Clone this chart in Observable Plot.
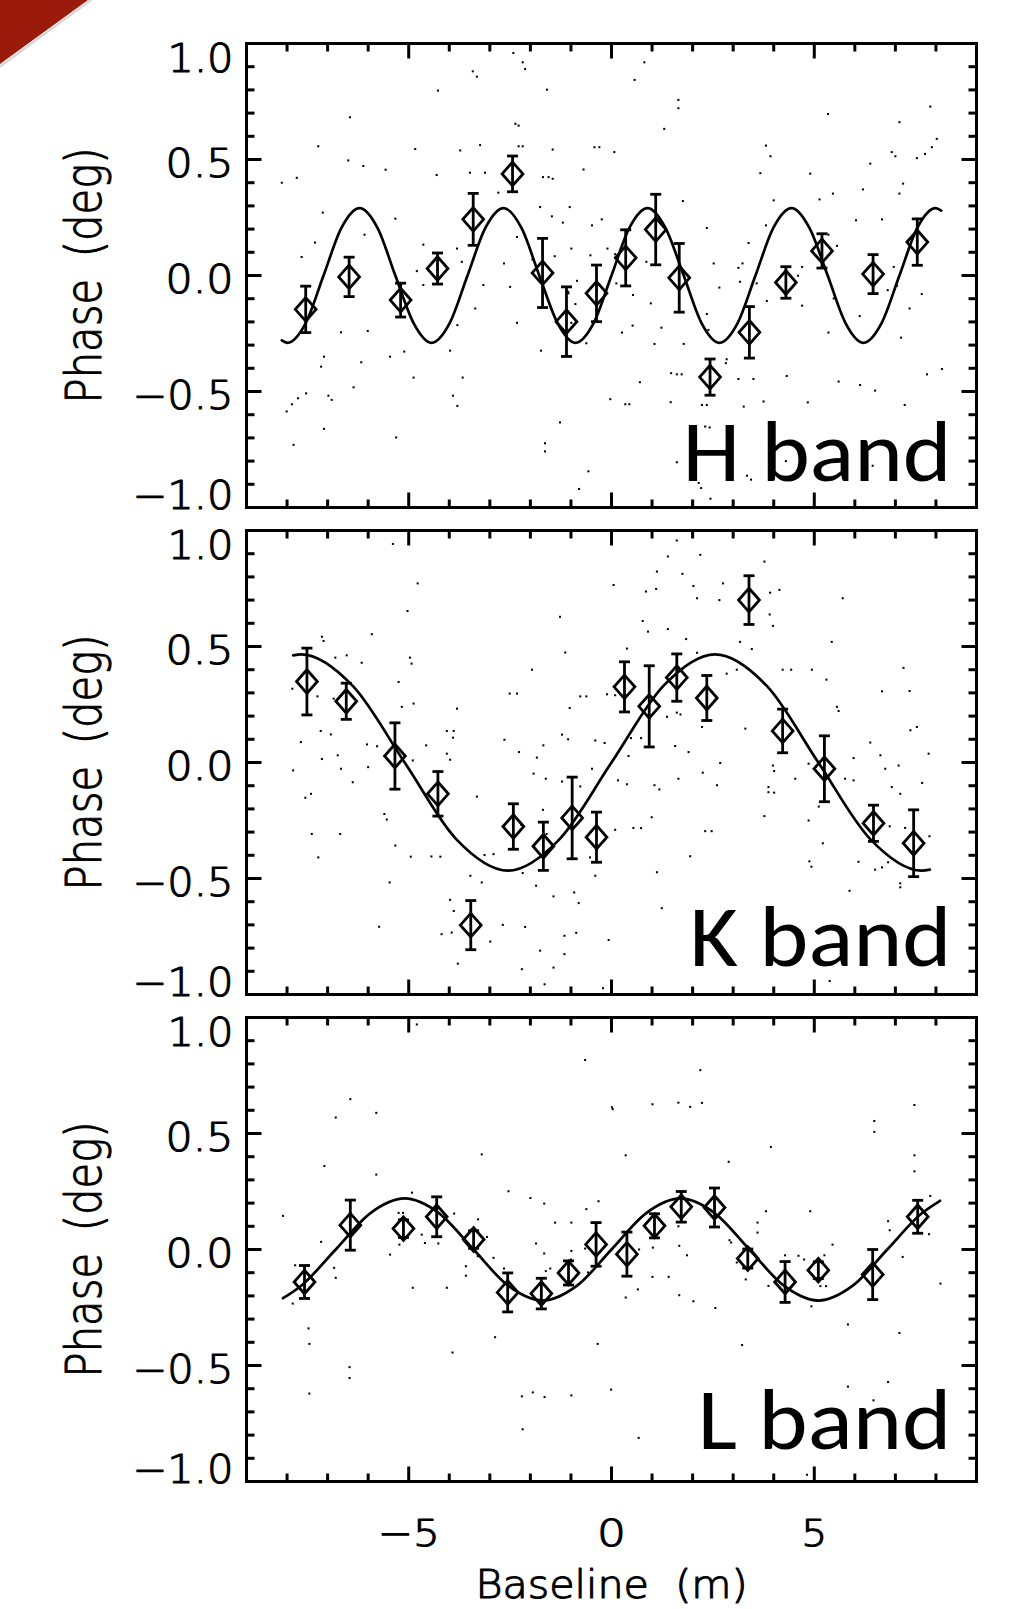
<!DOCTYPE html>
<html><head><meta charset="utf-8">
<script src="https://cdn.jsdelivr.net/npm/d3@7"></script>
<script src="https://cdn.jsdelivr.net/npm/@observablehq/plot@0.6"></script>
<style>
html,body{margin:0;padding:0;background:#fff;}
#wrap{position:relative;width:1018px;height:1609px;overflow:hidden;background:#fff;}
#wrap > svg{display:block;}
#corner{position:absolute;left:0;top:0;}
</style></head><body><div id="wrap"></div>
<script>
// ---------- data ----------
const bandNames = ["H band", "K band", "L band"];

const hBase  = [-7.54,-6.47,-5.20,-4.29,-3.41,-2.44,-1.70,-1.11,-0.37,0.35,1.09,1.67,2.43,3.40,4.30,5.19,6.45,7.54];
const hPhase = [-0.146,-0.006,-0.106,0.030,0.242,0.438,0.011,-0.199,-0.077,0.076,0.198,-0.010,-0.438,-0.245,-0.030,0.106,0.006,0.144];
const hErr   = [0.100,0.085,0.073,0.067,0.112,0.077,0.149,0.150,0.122,0.121,0.152,0.148,0.078,0.111,0.068,0.074,0.084,0.100];

const kBase  = [-7.51,-6.54,-5.34,-4.28,-3.47,-2.42,-1.68,-0.97,-0.37,0.32,0.93,1.61,2.35,3.39,4.22,5.25,6.46,7.45];
const kPhase = [0.349,0.264,0.028,-0.135,-0.701,-0.276,-0.361,-0.239,-0.322,0.326,0.242,0.366,0.278,0.700,0.136,-0.027,-0.262,-0.348];
const kErr   = [0.144,0.078,0.143,0.096,0.106,0.098,0.104,0.176,0.108,0.108,0.175,0.102,0.097,0.105,0.094,0.142,0.078,0.144];

const lBase  = [-7.57,-6.44,-5.13,-4.31,-3.40,-2.56,-1.73,-1.06,-0.38,0.38,1.06,1.72,2.54,3.36,4.28,5.10,6.44,7.55];
const lPhase = [-0.140,0.105,0.090,0.141,0.043,-0.185,-0.190,-0.101,0.022,-0.020,0.102,0.184,0.181,-0.039,-0.140,-0.089,-0.108,0.141];
const lErr   = [0.071,0.108,0.038,0.086,0.038,0.084,0.066,0.052,0.094,0.095,0.052,0.066,0.084,0.041,0.088,0.036,0.108,0.071];

// model curves (extrema, half-heights, zero crossings)
const hModel = [[-8.13,-0.28],[-7.99,-0.29],[-7.54,-0.205],[-7.10,0],[-6.66,0.205],[-6.21,0.29],[-5.77,0.205],[-5.33,0],[-4.88,-0.205],[-4.44,-0.29],[-3.99,-0.205],[-3.55,0],[-3.11,0.205],[-2.66,0.29],[-2.22,0.205],[-1.78,0],[-1.33,-0.205],[-0.89,-0.29],[-0.44,-0.205],[0,0],[0.44,0.205],[0.89,0.29],[1.33,0.205],[1.78,0],[2.22,-0.205],[2.66,-0.29],[3.11,-0.205],[3.55,0],[3.99,0.205],[4.44,0.29],[4.88,0.205],[5.33,0],[5.77,-0.205],[6.21,-0.29],[6.66,-0.205],[7.10,0],[7.54,0.205],[7.99,0.29],[8.13,0.28]];
const kModel = [[-7.85,0.462],[-7.65,0.466],[-6.38,0.33],[-5.10,0],[-3.83,-0.33],[-2.55,-0.466],[-1.28,-0.33],[0,0],[1.28,0.33],[2.55,0.466],[3.83,0.33],[5.10,0],[6.38,-0.33],[7.65,-0.466],[7.85,-0.462]];
const lModel = [[-8.10,-0.21],[-7.65,-0.156],[-6.80,0],[-5.95,0.156],[-5.10,0.22],[-4.25,0.156],[-3.40,0],[-2.55,-0.156],[-1.70,-0.22],[-0.85,-0.156],[0,0],[0.85,0.156],[1.70,0.22],[2.55,0.156],[3.40,0],[4.25,-0.156],[5.10,-0.22],[5.95,-0.156],[6.80,0],[7.65,0.156],[8.10,0.21]];

// faint raw samples (small dots)
const hScatter = [[-3.42,0.88],[-3.32,0.857],[-4.28,0.797],[-6.45,0.682],[-7.23,0.557],[-4.84,0.545],[-3.73,0.539],[-3.24,0.562],[-8.13,0.40],[-7.76,0.421],[-6.49,0.496],[-6.12,0.472],[-5.57,0.456],[-4.31,0.433],[-3.49,0.443],[-3.12,0.443],[-2.79,0.357],[-7.12,0.271],[-5.33,0.245],[-6.09,0.176],[-7.31,0.142],[-4.64,0.133],[-3.81,0.116],[-3.69,0.059],[-7.64,0.08],[-4.80,0.019],[-4.64,-0.041],[-3.16,-0.041],[-3.36,-0.142],[-3.80,-0.214],[-6.67,-0.245],[-6.01,-0.239],[-3.98,-0.324],[-5.11,-0.328],[-5.46,-0.350],[-7.09,-0.350],[-7.16,-0.393],[-6.17,-0.374],[-4.88,-0.44],[-3.67,-0.44],[-8.01,-0.586],[-7.88,-0.555],[-7.73,-0.529],[-7.53,-0.508],[-6.98,-0.518],[-6.90,-0.536],[-6.36,-0.482],[-3.91,-0.518],[-3.80,-0.562],[-7.09,-0.661],[-5.31,-0.698],[-7.84,-0.730],
[-2.42,0.959],[-2.19,0.919],[-2.13,0.89],[0.81,0.919],[0.57,0.843],[-1.59,0.801],[1.65,0.757],[1.65,0.721],[5.34,0.696],[7.86,0.728],[7.10,0.661],[-2.37,0.654],[-2.29,0.646],[1.30,0.632],[3.81,0.560],[3.92,0.514],[8.02,0.589],[7.90,0.553],[7.73,0.524],[7.53,0.506],[6.91,0.532],[7.0,0.514],[-2.29,0.557],[-2.19,0.557],[-1.45,0.543],[-0.42,0.553],[-0.30,0.553],[0.07,0.532],[-0.69,0.457],[-1.69,0.424],[-1.55,0.424],[-1.45,0.417],[6.38,0.482],[3.67,0.441],[4.90,0.439],[7.19,0.396],[7.10,0.353],[5.46,0.353],[6.20,0.371],[5.13,0.328],[1.76,0.321],[4.0,0.324],[-1.76,0.295],[-1.47,0.255],[-1.2,0.228],[-1.03,0.295],[-0.48,0.216],[-0.24,0.242],[2.35,0.205],[3.81,0.216],[6.03,0.238],[6.67,0.242],[5.35,0.176],[5.56,0.128],[-2.33,0.166],[3.38,0.14],[-0.99,0.116],[-1.40,0.083],[-0.10,0.116],[0.09,0.092],[-0.52,0.087],[0.86,0.059],[2.52,0.052],[3.13,0.033],[3.23,0.052],[4.70,0.037],[4.60,-0.001],[6.96,0.037],[-1.95,0.069],[-2.65,0.052],[-2.50,-0.049],[-1.07,-0.07],[-0.85,-0.023],[0.12,-0.034],[0.53,-0.084],[0.97,-0.12],[2.66,-0.052],[3.17,-0.027],[3.58,-0.034],[3.83,-0.11],[6.81,-0.063],[7.04,-0.044],[7.65,-0.08],[4.70,-0.13],[5.48,-0.099],[7.35,-0.142],[-0.99,-0.204],[-2.33,-0.204],[-0.89,-0.123],[-1.06,-0.077],[0.26,-0.246],[0.52,-0.216],[1.23,-0.225],[2.35,-0.166],[2.39,-0.235],[6.12,-0.175],[5.35,-0.246],[7.14,-0.268],[1.06,-0.295],[1.78,-0.295],[-1.74,-0.324],[-0.62,-0.292],[2.84,-0.361],[2.82,-0.378],[7.78,-0.426],[8.15,-0.403],[0.70,-0.46],[1.47,-0.421],[1.61,-0.426],[1.73,-0.426],[3.13,-0.446],[3.50,-0.446],[4.32,-0.433],[5.6,-0.457],[6.13,-0.472],[6.5,-0.496],[-0.03,-0.533],[0.34,-0.555],[0.44,-0.555],[1.46,-0.546],[2.23,-0.558],[2.35,-0.558],[3.26,-0.565],[3.75,-0.543],[4.84,-0.547],[7.23,-0.558],[-1.27,-0.633],[2.31,-0.651],[2.42,-0.655],[-1.64,-0.723],[-1.64,-0.758],[1.61,-0.805],[4.3,-0.80],[-0.57,-0.844],[3.34,-0.863],[3.44,-0.88],[6.44,-0.82],[2.15,-0.894],[2.21,-0.916],[-0.80,-0.92],[2.44,-0.962]];

const kScatter = [[-5.39,0.942],[-4.78,0.772],[-5.03,0.653],[-5.91,0.553],[-7.14,0.542],[-7.10,0.524],[-4.97,0.452],[-4.93,0.426],[-6.81,0.452],[-6.53,0.462],[-6.16,0.43],[-5.25,0.347],[-7.87,0.318],[-7.25,0.285],[-5.17,0.24],[-4.88,0.254],[-3.81,0.232],[-6.85,0.275],[-7.17,0.136],[-6.92,0.121],[-4.06,0.136],[-3.89,0.136],[-3.91,0.107],[-7.66,0.088],[-6.03,0.078],[-5.78,0.07],[-4.57,0.074],[-4.06,0.038],[-3.98,0.012],[-7.14,0.015],[-6.75,0.031],[-4.90,0.009],[-7.85,-0.034],[-6.67,-0.027],[-6.0,-0.02],[-6.38,-0.085],[-3.32,-0.147],[-7.55,-0.152],[-7.41,-0.135],[-5.6,-0.222],[-5.54,-0.246],[-7.39,-0.308],[-6.69,-0.308],[-5.33,-0.358],[-7.23,-0.409],[-4.95,-0.406],[-4.44,-0.405],[-4.22,-0.406],[-3.13,-0.399],[-2.91,-0.395],[-5.47,-0.517],[-3.48,-0.488],[-3.20,-0.517],[-3.98,-0.592],[-3.89,-0.640],[-4.19,-0.740],[-3.94,-0.733],[-5.73,-0.708],[-2.99,-0.772],[-3.79,-0.867],
[1.61,0.957],[2.19,0.895],[1.39,0.888],[3.77,0.866],[1.12,0.823],[1.75,0.813],[0.05,0.765],[0.85,0.737],[1.10,0.748],[2.02,0.761],[2.11,0.708],[2.75,0.772],[2.66,0.70],[3.91,0.732],[4.14,0.744],[5.70,0.708],[-1.27,0.628],[0.77,0.61],[0.90,0.564],[1.39,0.575],[3.90,0.638],[3.98,0.589],[1.84,0.532],[3.17,0.52],[3.46,0.489],[5.43,0.52],[-1.14,0.474],[0.38,0.491],[-1.96,0.40],[2.11,0.473],[2.84,0.383],[3.09,0.40],[4.22,0.40],[4.43,0.40],[4.94,0.40],[5.30,0.357],[7.2,0.408],[-2.51,0.297],[-2.33,0.297],[-0.77,0.285],[-0.62,0.285],[-0.11,0.294],[0.09,0.29],[6.67,0.307],[7.35,0.308],[-1.03,0.235],[1.37,0.197],[1.70,0.207],[1.61,0.215],[5.56,0.24],[5.6,0.222],[2.23,0.153],[3.30,0.146],[7.37,0.139],[7.53,0.153],[-1.22,0.12],[-1.07,0.10],[-0.40,0.095],[-0.17,0.084],[0.48,0.105],[0.73,0.105],[-2.64,0.098],[-2.28,0.045],[-1.68,0.074],[1.57,0.071],[1.90,0.045],[2.68,-0.002],[-1.84,0.021],[-1.92,-0.048],[0.42,0.028],[3.98,-0.013],[4.01,-0.037],[4.86,-0.005],[5.97,0.019],[6.38,0.086],[6.63,0.031],[6.75,-0.027],[7.08,-0.013],[7.82,0.038],[-0.48,-0.027],[-1.62,-0.07],[-1.22,-0.082],[-0.77,-0.103],[0.16,-0.077],[0.38,-0.094],[1.06,-0.098],[1.18,-0.116],[1.65,-0.07],[2.25,-0.044],[2.60,-0.098],[4.53,-0.07],[3.87,-0.106],[3.87,-0.128],[4.01,-0.13],[5.76,-0.07],[5.97,-0.077],[6.91,-0.106],[7.12,-0.135],[7.66,-0.088],[5.11,-0.19],[0.99,-0.236],[3.77,-0.231],[-1.69,-0.204],[-1.60,-0.308],[-2.23,-0.268],[0.54,-0.282],[0.73,-0.283],[0.09,-0.29],[2.31,-0.296],[2.47,-0.296],[4.86,-0.25],[5.21,-0.348],[6.86,-0.275],[7.24,-0.282],[7.84,-0.318],[1.94,-0.404],[4.88,-0.426],[4.93,-0.449],[6.09,-0.428],[6.5,-0.462],[6.67,-0.452],[6.82,-0.43],[-2.19,-0.476],[-0.53,-0.409],[-0.40,-0.488],[1.12,-0.473],[7.12,-0.521],[7.12,-0.538],[-1.86,-0.531],[-1.43,-0.577],[-0.92,-0.56],[-0.81,-0.606],[1.24,-0.628],[5.87,-0.553],[-2.68,-0.70],[-2.13,-0.709],[-1.16,-0.747],[-0.87,-0.734],[-0.07,-0.765],[-1.76,-0.811],[-1.16,-0.826],[-2.21,-0.891],[-1.43,-0.884],[-1.65,-0.956],[-0.21,-0.973],[5.38,-0.942]];

const lScatter = [[-4.80,0.97],[-0.65,0.817],[0.01,0.613],[-6.44,0.648],[-6.80,0.569],[-5.80,0.589],[-7.08,0.36],[-5.80,0.323],[-3.20,0.41],[-2.54,0.251],[-4.92,0.245],[-2.0,0.222],[-1.66,0.198],[-8.10,0.145],[-5.25,0.158],[-5.14,0.158],[-3.88,0.155],[-0.32,0.208],[-0.62,0.174],[-3.29,0.13],[-1.39,0.116],[-0.99,0.116],[-7.16,0.033],[-4.68,0.064],[-4.60,0.028],[-4.27,0.026],[-5.23,0.021],[-5.46,-0.022],[-3.07,0.054],[-3.30,-0.029],[-2.91,-0.036],[-1.86,0.026],[-1.66,-0.017],[-0.99,-0.006],[-0.65,0.004],[-7.80,-0.068],[-6.84,-0.079],[-6.80,-0.122],[-3.59,-0.072],[-3.59,-0.113],[-2.65,-0.082],[-1.62,-0.093],[-1.51,-0.082],[-1.0,-0.043],[-0.58,-0.099],[-4.90,-0.165],[-4.06,-0.165],[-7.86,-0.233],
[-7.47,-0.34],[-7.45,-0.407],[-2.87,-0.378],[-3.92,-0.444],[-6.46,-0.507],[-6.46,-0.554],[-7.45,-0.621],
[5.83,-0.323],[7.10,-0.36],[3.22,-0.412],[-0.34,-0.407],[6.82,-0.571],[5.83,-0.591],[-2.21,-0.633],[-1.94,-0.616],[-1.65,-0.636],[-0.99,-0.629],[-0.01,-0.604],[-2.19,-0.775],[0.67,-0.812],[6.46,-0.65],[4.82,-0.971],
[2.19,0.773],[0.03,0.605],[1.01,0.626],[1.65,0.633],[1.94,0.615],[2.23,0.632],[7.47,0.623],[6.48,0.554],[6.48,0.507],[3.93,0.442],[0.35,0.406],[7.47,0.406],[7.47,0.337],[2.89,0.378],[7.86,0.231],[3.81,0.165],[4.90,0.165],[3.60,0.116],[3.60,0.073],[6.82,0.122],[6.86,0.083],[7.83,0.066],[2.91,0.04],[2.95,0.03],[1.65,0.10],[1.02,0.008],[0.68,0.0],[1.67,0.016],[1.86,-0.025],[5.45,0.021],[7.18,-0.032],[4.61,-0.027],[4.75,-0.043],[4.28,-0.025],[5.25,-0.025],[3.09,-0.056],[3.31,-0.129],[3.87,-0.157],[5.15,-0.158],[5.29,-0.158],[0.65,-0.172],[1.01,-0.118],[1.41,-0.118],[8.11,-0.147],[0.35,-0.207],[1.67,-0.197],[2.02,-0.223],[4.93,-0.245],[2.56,-0.252]];

// axes
const xMajorTicks = [-5, 0, 5];
const xMinorTicks = [-8,-7,-6,-4,-3,-2,-1,1,2,3,4,6,7,8];
const yMajorTicks = [-0.5, 0, 0.5];
const yMinorTicks = [-0.9,-0.8,-0.7,-0.6,-0.4,-0.3,-0.2,-0.1,0.1,0.2,0.3,0.4,0.6,0.7,0.8,0.9];
const yTickLabels = [-1, -0.5, 0, 0.5, 1];
const xTickLabels = [-5, 0, 5];
const yTitle = "Phase\u00a0\u2009(deg)";
const xTitle = "Baseline\u00a0\u00a0(m)";

// ---------- drawing ----------
const fmt = d3.format(".1f");
const fmtX = d3.format("d");
const seg = (x1, y1, x2, y2) => ({draw(c) { c.moveTo(x1, y1); c.lineTo(x2, y2); }});
const diamond = {draw(c) { c.moveTo(0,-11.8); c.lineTo(10.4,0); c.lineTo(0,11.8); c.lineTo(-10.4,0); c.closePath(); }};
const cap = seg(-5.5, 0, 5.5, 0);
const ink = {fill: "none", stroke: "black", strokeWidth: 3};
// thin IDL-like lettering: extra-light face with a fine outline to thicken strokes slightly
const idlText = {fontFamily: "'DejaVu Sans', 'Liberation Sans', sans-serif", fontWeight: 200,
  fill: "black", stroke: "black", strokeWidth: 1.1};

const textLen = {
  "1.0": 66, "0.5": 68, "0.0": 68, "\u22120.5": 101, "\u22121.0": 101,
  "\u22125": 62, "0": 29, "5": 26,
  [yTitle]: 256, [xTitle]: 272,
  "H band": 269, "K band": 262, "L band": 254
};

function tickMarks() {
  return [
    Plot.dot(yMajorTicks, {y: d => d, frameAnchor: "left", symbol: seg(0,0,15,0), ...ink}),
    Plot.dot(yMinorTicks, {y: d => d, frameAnchor: "left", symbol: seg(0,0,8,0), ...ink}),
    Plot.dot(yMajorTicks, {y: d => d, frameAnchor: "right", symbol: seg(0,0,-15,0), ...ink}),
    Plot.dot(yMinorTicks, {y: d => d, frameAnchor: "right", symbol: seg(0,0,-8,0), ...ink}),
    Plot.dot(xMajorTicks, {x: d => d, frameAnchor: "bottom", symbol: seg(0,0,0,-15), ...ink}),
    Plot.dot(xMinorTicks, {x: d => d, frameAnchor: "bottom", symbol: seg(0,0,0,-8), ...ink}),
    Plot.dot(xMajorTicks, {x: d => d, frameAnchor: "top", symbol: seg(0,0,0,15), ...ink}),
    Plot.dot(xMinorTicks, {x: d => d, frameAnchor: "top", symbol: seg(0,0,0,8), ...ink})
  ];
}

function yLabels(vals, dy) {
  return Plot.text(vals, {y: d => d, text: d => fmt(d), frameAnchor: "left", textAnchor: "end",
    lineAnchor: "bottom", dx: -13, dy, fontSize: 38.5, ...idlText});
}

function panel(o) {
  const pts = o.base.map((b, i) => ({u: b, v: o.phase[i], e: o.err[i]}));
  const curve = o.model.map(([u, v]) => ({u, v}));
  const raw = o.scatter.map(([u, v]) => ({u, v}));
  const marks = [
    Plot.dot(raw, {x: "u", y: "v", symbol: "square", r: 1.15, fill: "black", stroke: "none"}),
    Plot.line(curve, {x: "u", y: "v", curve: "monotone-x", stroke: "black", strokeWidth: 2.7}),
    Plot.ruleX(pts, {x: "u", y1: d => d.v - d.e, y2: d => d.v + d.e, stroke: "black", strokeWidth: 2.8}),
    Plot.dot(pts, {x: "u", y: d => d.v + d.e, symbol: cap, fill: "none", stroke: "black", strokeWidth: 2.8}),
    Plot.dot(pts, {x: "u", y: d => d.v - d.e, symbol: cap, fill: "none", stroke: "black", strokeWidth: 2.8}),
    Plot.dot(pts, {x: "u", y: "v", symbol: diamond, fill: "none", stroke: "black", strokeWidth: 2.8}),
    ...tickMarks(),
    Plot.frame({stroke: "black", strokeWidth: 3}),
    yLabels(yTickLabels.filter(d => d === 1), 28.7),
    yLabels(yTickLabels.filter(d => Math.abs(d) < 1), 17.5),
    yLabels(yTickLabels.filter(d => d === -1), 1),
    Plot.text([yTitle], {frameAnchor: "left", rotate: -90, dx: -146, textAnchor: "middle", lineAnchor: "bottom",
      fontSize: 50, ...idlText}),
    Plot.text([o.band], {frameAnchor: "bottom-right", textAnchor: "end", lineAnchor: "bottom",
      dx: -25, dy: -o.bandDy, fontSize: 86, fontFamily: "Carlito, Calibri, Lato, 'Open Sans', sans-serif", fill: "black"})
  ];
  if (o.bottom) {
    marks.push(
      Plot.text(xTickLabels, {x: d => d, text: d => fmtX(d), frameAnchor: "bottom", textAnchor: "middle",
        lineAnchor: "bottom", dy: 64, fontSize: 37, ...idlText}),
      Plot.text([xTitle], {frameAnchor: "bottom", textAnchor: "middle", lineAnchor: "bottom", dy: 116,
        fontSize: 39, ...idlText})
    );
  }
  const svg = Plot.plot({
    width: 1018, height: o.height,
    marginLeft: 246, marginRight: 42, marginTop: o.mt, marginBottom: o.mb,
    x: {domain: [-9, 9], axis: null},
    y: {domain: [-1, 1], axis: null},
    style: {background: "white", overflow: "visible"},
    marks
  });
  svg.querySelectorAll("text").forEach(t => {
    const L = textLen[t.textContent];
    if (L) { t.setAttribute("textLength", L); t.setAttribute("lengthAdjust", "spacingAndGlyphs"); }
  });
  return svg;
}

const wrap = document.getElementById("wrap");
wrap.append(
  panel({band: bandNames[0], base: hBase, phase: hPhase, err: hErr, model: hModel, scatter: hScatter,
    height: 519, mt: 43, mb: 12, bandDy: 27}),
  panel({band: bandNames[1], base: kBase, phase: kPhase, err: kErr, model: kModel, scatter: kScatter,
    height: 487, mt: 11, mb: 12, bandDy: 28.5}),
  panel({band: bandNames[2], base: lBase, phase: lPhase, err: lErr, model: lModel, scatter: lScatter,
    height: 603, mt: 11, mb: 128, bandDy: 32.5, bottom: true})
);

// decorative slide corner
const ns = "http://www.w3.org/2000/svg";
const corner = document.createElementNS(ns, "svg");
corner.setAttribute("id", "corner");
corner.setAttribute("width", "100");
corner.setAttribute("height", "75");
corner.innerHTML = '<polygon points="0,0 88,0 0,64" fill="#9a1a0b"/><line x1="91" y1="0" x2="0" y2="66.5" stroke="#d8d8d8" stroke-width="2.5"/>';
wrap.append(corner);
</script></body></html>
